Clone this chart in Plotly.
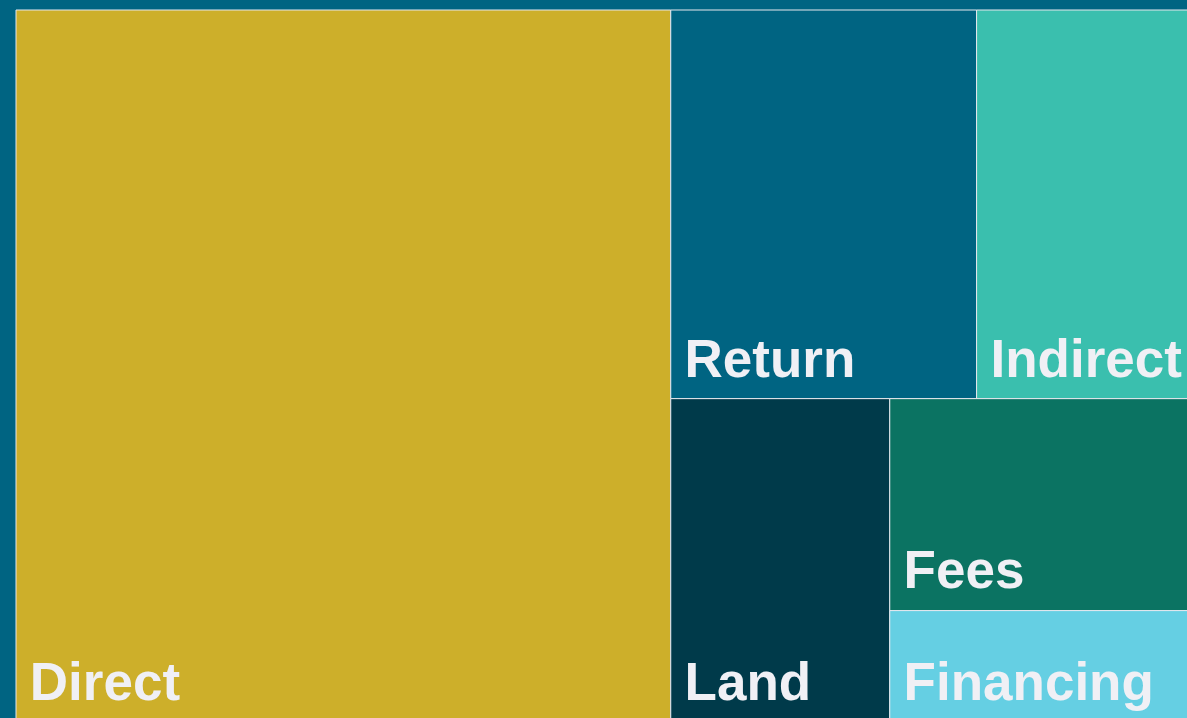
import plotly.graph_objects as go

# Data (share of total, %)
labels = ["Direct", "Return", "Indirect", "Land", "Fees", "Financing"]
parents = ["", "", "", "", "", ""]
values = [55.3, 14.1, 10.3, 8.4, 7.8, 4.1]
colors = ["#CDAF2A", "#006482", "#3ABFAE", "#003A4A", "#0B7362", "#65CFE3"]

BG = "#006482"

# leading invisible spacer gives the label some inset from the tile corner
label_tpl = "<sub><span style='font-size:39px'>\u00a0</span></sub>%{label}"

fig = go.Figure(
    go.Treemap(
        labels=labels,
        parents=parents,
        values=values,
        sort=True,
        texttemplate=label_tpl,
        textposition="bottom left",
        textfont=dict(family="Liberation Sans, Arial, sans-serif", size=53,
                      color="#F0F0F5", weight="bold"),
        marker=dict(colors=colors, line=dict(color="#E6E8EE", width=1),
                    pad=dict(t=0, l=0, r=0, b=0)),
        tiling=dict(packing="squarify", squarifyratio=1, pad=0),
        pathbar=dict(visible=False),
        hoverinfo="label+value",
    )
)

fig.update_layout(
    width=1200,
    height=722,
    margin=dict(l=16, r=0, t=10, b=0),
    paper_bgcolor=BG,
    plot_bgcolor=BG,
    showlegend=False,
)

fig.write_html(
    "out.html",
    config={"displayModeBar": False},
    post_script="document.body.style.margin='0';document.body.style.background='%s';"
                "document.body.style.overflow='hidden';"
                "document.documentElement.style.overflow='hidden';" % BG,
)
